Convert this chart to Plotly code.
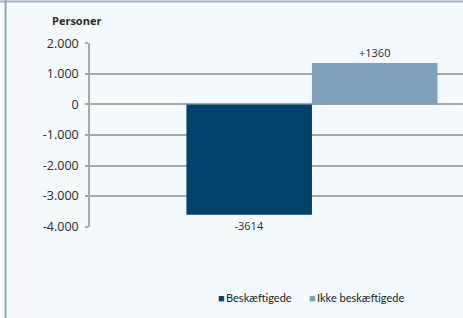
import plotly.graph_objects as go

# ---- data ----
series_names = ["Beskæftigede", "Ikke beskæftigede"]
series_values = [-3614, 1360]
series_labels = ["-3614", "+1360"]
series_colors = ["#00426a", "#7fa2b8"]
category = [0]
tick_vals = [2000, 1000, 0, -1000, -2000, -3000, -4000]
tick_text = ["2.000", "1.000", "0", "-1.000", "-2.000", "-3.000", "-4.000"]
y_title = "Personer"

BG = "#f4f9fd"
GRID = "#a8a8a8"
TEXT = "#2b2b2b"
FONT = "Open Sans"

L, T, W, H = 90, 43, 463, 318
PW = W - L
B = 91

fig = go.Figure()
for name, val, lab, col in zip(series_names, series_values, series_labels, series_colors):
    fig.add_trace(go.Bar(
        x=category, y=[val], name=name, text=[lab], textposition="outside",
        marker=dict(color=col, line=dict(width=0)),
        textfont=dict(family=FONT, size=11, color=TEXT),
        cliponaxis=False, showlegend=False,
    ))

fig.update_layout(
    width=W, height=H,
    margin=dict(l=L, r=0, t=T, b=B, pad=0),
    paper_bgcolor=BG, plot_bgcolor=BG,
    barmode="group", bargap=0.327, bargroupgap=0,
    font=dict(family=FONT, size=11, color=TEXT),
    xaxis=dict(range=[-0.595, 0.405], showticklabels=False, showgrid=False,
               zeroline=False, showline=False, ticks=""),
    yaxis=dict(range=[-4015, 2015], tickvals=tick_vals, ticktext=tick_text,
               showgrid=True, gridcolor=GRID, gridwidth=1.6,
               zeroline=False, showline=True, linecolor=GRID, linewidth=1.6,
               ticks="outside", ticklen=3, tickcolor=GRID, tickwidth=1.6,
               ticklabelstandoff=4,
               tickfont=dict(family=FONT, size=12.5, color=TEXT)),
    showlegend=False,
)

# y-axis title
fig.add_annotation(text="<b>" + y_title + "</b>", xref="paper", yref="paper",
                   x=0, y=1, xshift=-14, yshift=23, xanchor="center", yanchor="middle",
                   showarrow=False, font=dict(family=FONT, size=11, color=TEXT))

# legend built from series
legend_x = [216, 307]
for name, col, lx in zip(series_names, series_colors, legend_x):
    fig.add_annotation(
        text=f"<span style='color:{col}'>■</span>\u2009{name}",
        xref="paper", yref="paper", x=(lx - L) / PW, y=0, yshift=-70,
        xanchor="left", yanchor="middle", showarrow=False,
        font=dict(family="Lato", size=11, color="#222222"))

# frame
fig.add_shape(type="rect", xref="paper", yref="paper", xanchor=0, xsizemode="pixel",
              x0=-L - 2, x1=-L + 5, y0=-1, y1=2, fillcolor="white", line=dict(width=0), layer="above")
fig.add_shape(type="line", xref="paper", yref="paper", xanchor=0, xsizemode="pixel",
              x0=-L + 5.5, x1=-L + 5.5, y0=-1, y1=2, line=dict(color="#8ea5b6", width=2))
fig.add_shape(type="line", xref="paper", yref="paper", yanchor=1, ysizemode="pixel",
              y0=T - 1.5, y1=T - 1.5, x0=-0.3, x1=1.1, line=dict(color="#9fb2c1", width=2))

fig.write_html("out.html", config={"displayModeBar": False},
               post_script="document.body.style.margin='0';document.body.style.overflow='hidden';")
